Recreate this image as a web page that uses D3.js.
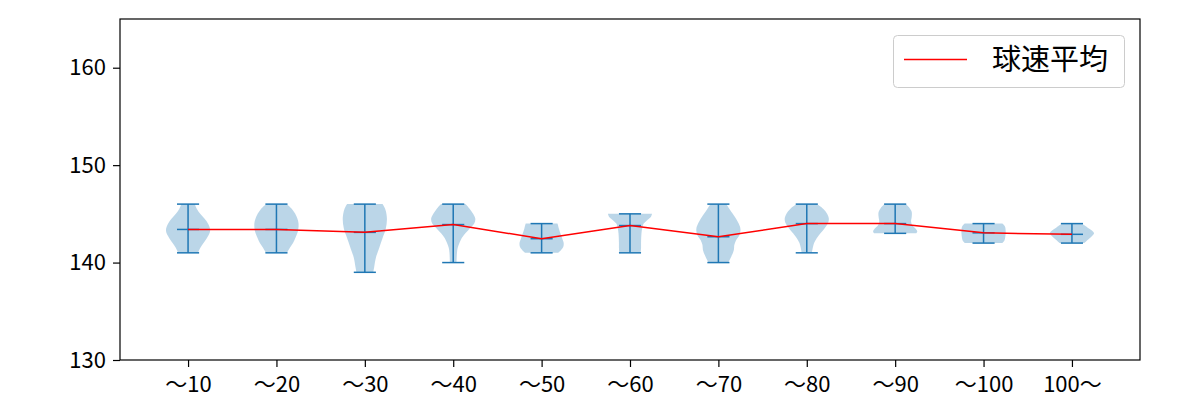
<!DOCTYPE html>
<html><head><meta charset="utf-8">
<script src="https://cdn.jsdelivr.net/npm/d3@7"></script>
<style>body{margin:0;background:#fff;} svg{display:block;}</style>
</head><body><svg id="c" width="1200" height="400"></svg>
<script>
const categories = ["～10","～20","～30","～40","～50","～60","～70","～80","～90","～100","100～"];
const mins  = [141,141,139,140,141,141,140,141,143,142,142];
const maxs  = [146,146,146,146,144,145,146,146,146,144,144];
const means = [143.4,143.4,143.1,143.9,142.45,143.8,142.65,144.0,144.0,143.05,142.9];
const yTicks = [130,140,150,160];
const legendLabel = "球速平均";
// estimated density profiles [value, relative width]
const densities = [
  [[141,0.45],[141.5,0.55],[142,0.7],[142.7,0.9],[143.3,1.0],[144,0.9],[144.5,0.75],[145,0.55],[145.5,0.4],[146,0.3]],
  [[141,0.48],[141.5,0.6],[142,0.75],[142.5,0.85],[143.3,0.98],[144,1.0],[144.5,0.95],[145,0.85],[145.5,0.7],[146,0.45]],
  [[139,0.38],[139.5,0.42],[140.5,0.5],[141.5,0.65],[142.5,0.8],[143.5,0.95],[144.5,1.0],[145.3,0.95],[145.7,0.88],[146,0.8]],
  [[140,0.15],[141,0.17],[141.5,0.2],[142,0.28],[142.5,0.38],[143,0.55],[143.5,0.75],[144,0.95],[144.5,1.0],[145,0.9],[145.5,0.75],[146,0.55]],
  [[141,0.75],[141.3,0.88],[141.6,0.98],[142,1.0],[142.5,0.93],[143,0.85],[143.5,0.78],[144,0.72]],
  [[141,0.48],[141.5,0.5],[142,0.5],[143,0.52],[143.5,0.55],[144,0.62],[144.3,0.75],[144.7,0.95],[145,1.0]],
  [[140,0.45],[140.7,0.6],[141.3,0.7],[141.8,0.72],[142.3,0.8],[142.8,0.95],[143.4,1.0],[144,0.92],[144.5,0.8],[145,0.65],[145.5,0.5],[146,0.35]],
  [[141,0.23],[141.5,0.27],[142,0.33],[142.5,0.45],[143,0.62],[143.5,0.8],[144,0.95],[144.5,1.0],[145,0.92],[145.5,0.75],[146,0.45]],
  [[143,0.95],[143.2,1.0],[143.5,0.92],[143.8,0.78],[144.2,0.72],[144.7,0.75],[145.2,0.75],[145.6,0.65],[146,0.48]],
  [[142,0.85],[142.3,0.95],[142.6,0.98],[143,1.0],[143.3,1.0],[143.7,0.97],[144,0.85]],
  [[142,0.55],[142.4,0.75],[142.7,0.9],[143,1.0],[143.2,0.95],[143.6,0.7],[144,0.45]]
];

const svg = d3.select("#c");
const L=120, R=1140, T=19, B=360;
const x = d3.scaleLinear().domain([0.23, 11.77]).range([L,R]);
const y = d3.scaleLinear().domain([130,165]).range([B,T]);
const blue="#1f77b4";
const font='"Noto Sans CJK JP", "Noto Sans", sans-serif';
const halfW = 0.25, capW = 0.125;

const g = svg.append("g");
categories.forEach((c,i)=>{
  const pos=i+1;
  const area=d3.area()
    .y(d=>y(d[0]))
    .x0(d=>x(pos - halfW*d[1]))
    .x1(d=>x(pos + halfW*d[1]))
    .curve(d3.curveCatmullRom);
  g.append("path").attr("d",area(densities[i]))
    .attr("fill",blue).attr("fill-opacity",0.3).attr("stroke","none");
  g.append("line").attr("x1",x(pos)).attr("x2",x(pos)).attr("y1",y(mins[i])).attr("y2",y(maxs[i]))
    .attr("stroke",blue).attr("stroke-width",1.5);
  [mins[i],maxs[i],means[i]].forEach(v=>{
    g.append("line").attr("x1",x(pos-capW)).attr("x2",x(pos+capW)).attr("y1",y(v)).attr("y2",y(v))
      .attr("stroke",blue).attr("stroke-width",1.5);
  });
});

const line=d3.line().x((d,i)=>x(i+1)).y(d=>y(d));
svg.append("path").attr("d",line(means)).attr("fill","none").attr("stroke","#ff0000").attr("stroke-width",1.5);

// axes
const yAxis=d3.axisLeft(y).tickValues(yTicks).tickSize(7).tickPadding(7);
const ya=svg.append("g").attr("transform",`translate(${L},0)`).call(yAxis);
const xAxis=d3.axisBottom(x).tickValues(d3.range(1,12)).tickFormat(d=>categories[d-1]).tickSize(7).tickPadding(9);
const xa=svg.append("g").attr("transform",`translate(0,${B})`).call(xAxis);
[ya,xa].forEach(a=>{a.select(".domain").remove(); a.selectAll("line").attr("stroke","#000").attr("stroke-width",1.2);
  a.selectAll("text").attr("fill","#000").style("font-family",font).style("font-size","22px");});
svg.append("rect").attr("x",L).attr("y",T).attr("width",R-L).attr("height",B-T)
  .attr("fill","none").attr("stroke","#000").attr("stroke-width",1.2);

// legend
const lg=svg.append("g");
lg.append("rect").attr("x",893.5).attr("y",35.5).attr("width",231).attr("height",52).attr("rx",4)
  .attr("fill","#fff").attr("fill-opacity",0.8).attr("stroke","#cccccc");
lg.append("line").attr("x1",904).attr("x2",967).attr("y1",59.5).attr("y2",59.5).attr("stroke","#ff0000").attr("stroke-width",1.5);
lg.append("text").attr("x",992).attr("y",70).text(legendLabel).style("font-family",font).style("font-size","29px").attr("fill","#000");
</script></body></html>
